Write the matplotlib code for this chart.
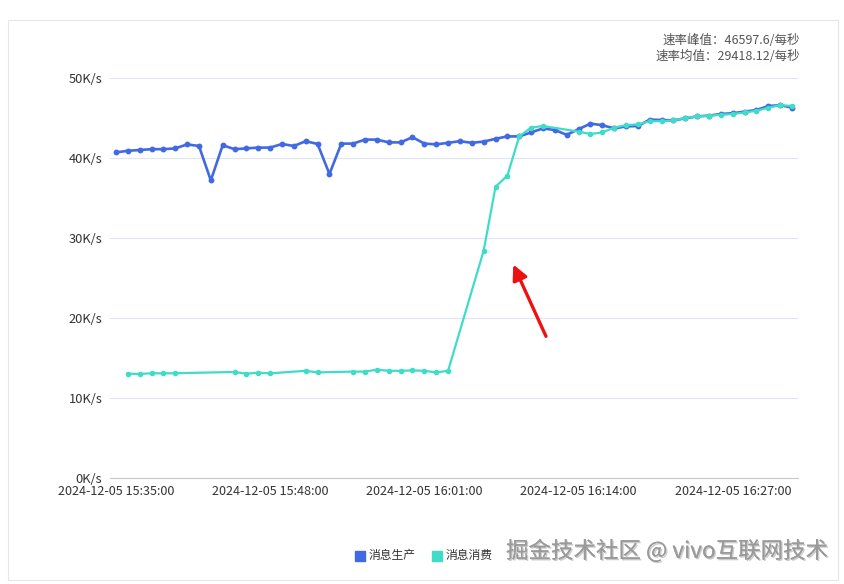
import matplotlib
matplotlib.use('Agg')
import matplotlib.pyplot as plt
import matplotlib.patheffects as pe
from matplotlib.patches import Rectangle
import numpy as np
import pandas as pd

plt.rcParams['font.family'] = ['Noto Sans CJK SC', 'DejaVu Sans']

# one category per minute, 15:35 .. 16:32
times = pd.date_range('2024-12-05 15:35:00', periods=58, freq='min')
categories = [t.strftime('%Y-%m-%d %H:%M:%S') for t in times]

# K/s
produce = [40.7, 40.9, 41.0, 41.1, 41.1, 41.2, 41.7, 41.5, 37.2, 41.6,
           41.1, 41.2, 41.3, 41.3, 41.75, 41.5, 42.1, 41.75, 38.0, 41.8,
           41.8, 42.3, 42.3, 41.95, 41.95, 42.6, 41.8, 41.7, 41.9, 42.1,
           41.9, 42.05, 42.4, 42.7, 42.7, 43.2, 43.7, 43.5, 42.9, 43.6,
           44.3, 44.1, 43.7, 43.95, 44.0, 44.8, 44.75, 44.7, 44.96, 45.2,
           45.3, 45.5, 45.6, 45.8, 46.0, 46.5, 46.6, 46.3]

consume = [None, 13.04, 13.0, 13.1, 13.08, 13.1, None, None, None, None,
           13.25, 13.04, 13.16, 13.08, None, None, 13.4, 13.2, None, None,
           13.3, 13.3, 13.54, 13.4, 13.4, 13.45, 13.4, 13.2, 13.4, None,
           None, 28.4, 36.4, 37.8, 42.7, 43.8, 44.0, None, None, 43.3,
           43.0, 43.2, 43.8, 44.1, 44.2, 44.6, 44.6, 44.7, 45.0, 45.2,
           45.3, 45.4, 45.5, 45.7, 45.9, 46.3, 46.6, 46.5]

series_names = ['消息生产', '消息消费']
colors = ['#4169e1', '#3fdcc8']
yticks = [0, 10, 20, 30, 40, 50]
label_every = 13
stats = ['速率峰值：46597.6/每秒', '速率均值：29418.12/每秒']
watermark = '掘金技术社区 @ vivo互联网技术'

W, H = 845, 584
fig = plt.figure(figsize=(W/100, H/100), dpi=100)
fig.patches.append(Rectangle((8/W, 4/H), 830/W, 560/H, transform=fig.transFigure,
                             fill=False, edgecolor='#e6e6e6', lw=0.8))

ax = fig.add_axes([110/W, 106/H, 688/W, 400/H])
x = np.arange(len(categories))
ax.plot(x, produce, color=colors[0], lw=1.9, marker='o', ms=3.2, zorder=3)

cx = [i for i, v in enumerate(consume) if v is not None]
cy = [v for v in consume if v is not None]
ax.plot(cx, cy, color=colors[1], lw=1.6, marker='o', ms=3.0, zorder=4)

ax.set_xlim(-0.5, len(categories) - 0.5)
ax.set_ylim(0, 50)
ax.set_yticks(yticks)
ax.set_yticklabels(['%dK/s' % v for v in yticks], fontsize=9.3, color='#333333')
ticks = x[::label_every]
ax.set_xticks(ticks)
ax.set_xticklabels([categories[i] for i in ticks], fontsize=9.1, color='#333333')
ax.tick_params(axis='both', length=0)
ax.tick_params(axis='x', pad=5)
ax.tick_params(axis='y', pad=5.5)
ax.grid(axis='y', color='#e0e6f1', lw=0.8)
ax.set_axisbelow(True)
for s in ['top', 'right', 'left']:
    ax.spines[s].set_visible(False)
ax.spines['bottom'].set_color('#c8c8c8')

# red arrow pointing at the jump
ax.annotate('', xy=(33.4, 27.0), xytext=(36.35, 17.4),
            arrowprops=dict(arrowstyle='-|>,head_length=0.9,head_width=0.45',
                            color='#ee1111', lw=2.4), zorder=5)

fig.text(800/W, 1 - 40/H, stats[0], ha='right', va='center', fontsize=9.0, color='#555555')
fig.text(800/W, 1 - 56/H, stats[1], ha='right', va='center', fontsize=9.0, color='#555555')

# legend
lx = 355
for name, c in zip(series_names, colors):
    fig.patches.append(Rectangle((lx/W, (H - 561)/H), 10/W, 10/H,
                                 transform=fig.transFigure, color=c))
    fig.text((lx + 14)/W, 1 - 556/H, name, ha='left', va='center', fontsize=8.5, color='#333333')
    lx += 77

fig.text(828/W, 1 - 551/H, watermark, ha='right', va='center', fontsize=16.2, color='#9a9a9a',
         path_effects=[pe.withSimplePatchShadow(offset=(1, -1), shadow_rgbFace='#555555', alpha=0.3),
                       pe.Normal()])

fig.savefig('out.png', dpi=100)
